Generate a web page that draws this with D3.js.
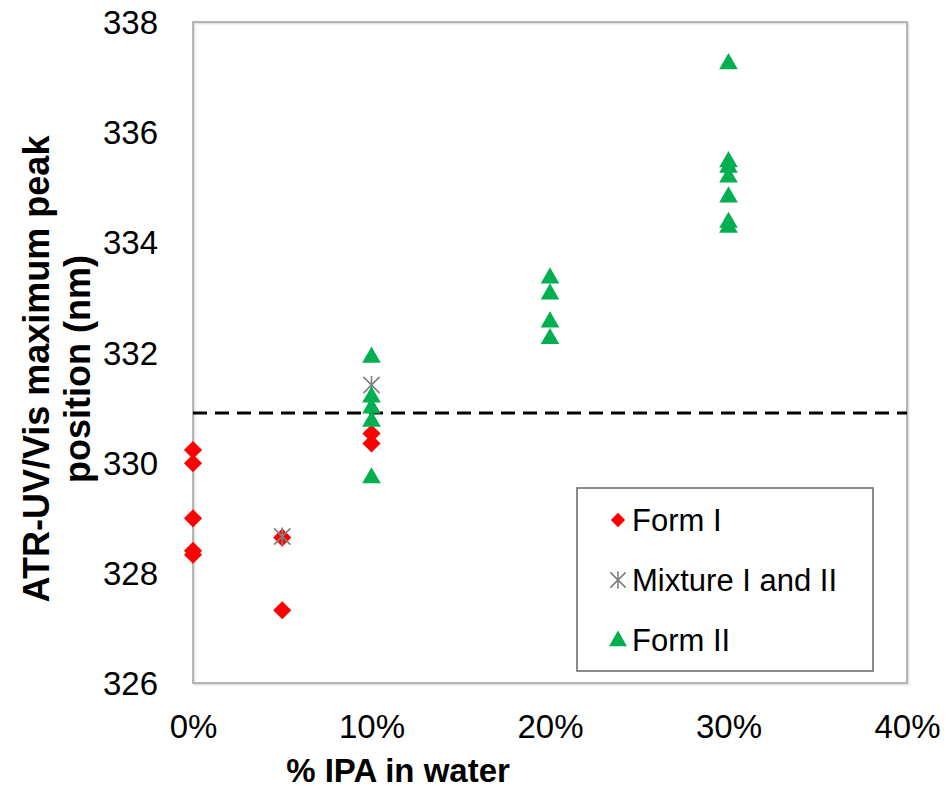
<!DOCTYPE html>
<html>
<head>
<meta charset="utf-8">
<script src="https://cdn.jsdelivr.net/npm/d3@7"></script>
<style>
  html, body { margin: 0; padding: 0; background: #fff; }
  svg text { font-family: "Liberation Sans", Arial, sans-serif; fill: #000; }
</style>
</head>
<body>
<svg id="chart" width="948" height="795"></svg>
<script>
// ---- data ----
const xTicks = [0, 0.1, 0.2, 0.3, 0.4];
const yTicks = [326, 328, 330, 332, 334, 336, 338];

const formIX = [0, 0, 0, 0, 0, 0.05, 0.05, 0.10, 0.10];
const formIY = [330.23, 329.99, 328.99, 328.40, 328.33, 328.64, 327.32, 330.53, 330.35];

const mixX = [0.05, 0.10];
const mixY = [328.66, 331.41];

const formIIX = [0.10, 0.10, 0.10, 0.10, 0.10, 0.20, 0.20, 0.20, 0.20, 0.30, 0.30, 0.30, 0.30, 0.30, 0.30, 0.30];
const formIIY = [331.93, 331.21, 331.01, 330.77, 329.74, 333.37, 333.08, 332.57, 332.27, 337.26, 335.48, 335.38, 335.20, 334.84, 334.38, 334.29];

const thresholdY = [330.9];
const seriesNames = ["Form I", "Mixture I and II", "Form II"];

// ---- layout ----
const svg = d3.select("#chart");
const L = 193, R = 907, T = 22, B = 683;
const x = d3.scaleLinear().domain([0, 0.4]).range([L, R]);
const y = d3.scaleLinear().domain([326, 338]).range([B, T]);

const RED = "#ff0000", GREEN = "#00b050", GRAY = "#7f7f7f";

// plot frame
svg.append("rect").attr("x", L + 1.5).attr("y", T + 1.5).attr("width", R - L).attr("height", B - T)
  .attr("fill", "none").attr("stroke", "#e3e3e3").attr("stroke-width", 2);
svg.append("rect").attr("x", L).attr("y", T).attr("width", R - L).attr("height", B - T)
  .attr("fill", "none").attr("stroke", "#a6a6a6").attr("stroke-width", 1.6);

// axes (labels only)
const yAxis = d3.axisLeft(y).tickValues(yTicks).tickSize(0).tickPadding(35).tickFormat(d3.format("d"));
const gy = svg.append("g").attr("transform", `translate(${L},0)`).call(yAxis);
gy.select(".domain").remove();
gy.selectAll("text").style("font-size", "33px").attr("dy", "0.35em")
  .style("font-family", '"Liberation Sans", Arial, sans-serif');

const xAxis = d3.axisBottom(x).tickValues(xTicks).tickSize(0).tickPadding(32).tickFormat(d3.format(".0%"));
const gx = svg.append("g").attr("transform", `translate(0,${B})`).call(xAxis);
gx.select(".domain").remove();
gx.selectAll("text").style("font-size", "33px")
  .style("font-family", '"Liberation Sans", Arial, sans-serif');

// axis titles
svg.append("text").attr("x", 398).attr("y", 782).attr("text-anchor", "middle")
  .style("font-size", "33px").style("font-weight", "bold").text("% IPA in water");

const yt = svg.append("text").attr("transform", "translate(0,369) rotate(-90)")
  .attr("text-anchor", "middle").style("font-size", "36px").style("font-weight", "bold");
yt.append("tspan").attr("x", 0).attr("y", 49).text("ATR-UV/Vis maximum peak");
yt.append("tspan").attr("x", 0).attr("y", 90).text("position (nm)");

// dashed reference line
svg.selectAll("line.ref").data(thresholdY).enter().append("line").attr("class", "ref")
  .attr("x1", x(0)).attr("x2", x(0.4)).attr("y1", d => y(d)).attr("y2", d => y(d))
  .attr("stroke", "#000").attr("stroke-width", 3).attr("stroke-dasharray", "14,8");

// markers
const diamond = d3.symbol().type(d3.symbolDiamond2).size(210);
const triangle = d3.symbol().type(d3.symbolTriangle).size(150);
function star(s) { // asterisk: X + vertical line
  const h = s / 2, k = h * 0.9;
  return `M${-k},${-k}L${k},${k}M${-k},${k}L${k},${-k}M0,${-h}L0,${h}`;
}

const formI = formIX.map((v, i) => ({ x: v, y: formIY[i] }));
const mix = mixX.map((v, i) => ({ x: v, y: mixY[i] }));
const formII = formIIX.map((v, i) => ({ x: v, y: formIIY[i] }));

svg.append("g").selectAll("path").data(formI).enter().append("path")
  .attr("d", diamond).attr("transform", d => `translate(${x(d.x)},${y(d.y)})`).attr("fill", RED);
svg.append("g").selectAll("path").data(mix).enter().append("path")
  .attr("d", star(18)).attr("transform", d => `translate(${x(d.x)},${y(d.y)})`)
  .attr("fill", "none").attr("stroke", GRAY).attr("stroke-width", 1.6);
svg.append("g").selectAll("path").data(formII).enter().append("path")
  .attr("d", triangle).attr("transform", d => `translate(${x(d.x)},${y(d.y) + 1})`).attr("fill", GREEN);

// legend
const lg = svg.append("g");
lg.append("rect").attr("x", 577).attr("y", 488).attr("width", 296).attr("height", 183)
  .attr("fill", "#fff").attr("stroke", "#6f6f6f").attr("stroke-width", 1.6);
const ly = [520, 580, 640];
lg.append("path").attr("d", d3.symbol().type(d3.symbolDiamond2).size(130))
  .attr("transform", `translate(618,${ly[0]})`).attr("fill", RED);
lg.append("path").attr("d", star(17)).attr("transform", `translate(618,${ly[1]})`)
  .attr("fill", "none").attr("stroke", GRAY).attr("stroke-width", 1.6);
lg.append("path").attr("d", d3.symbol().type(d3.symbolTriangle).size(140))
  .attr("transform", `translate(618,${ly[2] + 1})`).attr("fill", GREEN);
seriesNames.forEach((n, i) => {
  lg.append("text").attr("x", 632).attr("y", ly[i]).attr("dy", "0.35em")
    .style("font-size", "31px").text(n);
});
</script>
</body>
</html>
